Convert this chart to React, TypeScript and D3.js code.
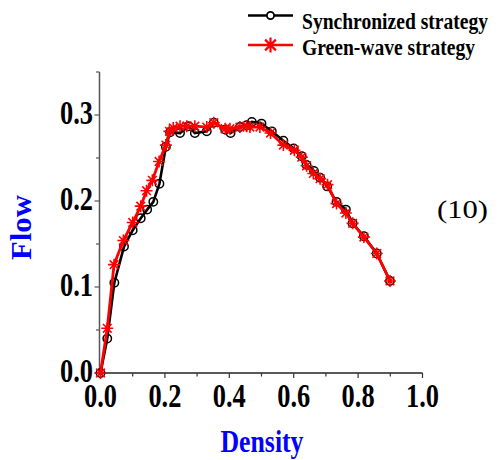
import React from 'react';
import * as d3 from 'd3';

// Synchronized strategy (black, open circles)
const syncDensity = [0, 0.021, 0.043, 0.073, 0.1, 0.125, 0.145, 0.164, 0.183, 0.203, 0.216, 0.247, 0.273, 0.293, 0.33, 0.352, 0.387, 0.404, 0.433, 0.454, 0.47, 0.5, 0.532, 0.568, 0.6, 0.625, 0.64, 0.663, 0.682, 0.704, 0.733, 0.762, 0.783, 0.818, 0.858, 0.899];
const syncFlow = [0, 0.04, 0.105, 0.147, 0.166, 0.18, 0.19, 0.199, 0.22, 0.263, 0.28, 0.279, 0.287, 0.279, 0.281, 0.291, 0.283, 0.279, 0.286, 0.288, 0.292, 0.29, 0.281, 0.27, 0.261, 0.252, 0.242, 0.235, 0.227, 0.217, 0.199, 0.19, 0.174, 0.159, 0.139, 0.107];

// Green-wave strategy (red, asterisks)
const greenDensity = [0, 0.021, 0.042, 0.071, 0.1, 0.125, 0.143, 0.161, 0.182, 0.203, 0.214, 0.226, 0.247, 0.268, 0.293, 0.33, 0.352, 0.387, 0.402, 0.433, 0.454, 0.464, 0.495, 0.528, 0.568, 0.602, 0.625, 0.64, 0.661, 0.682, 0.705, 0.733, 0.762, 0.783, 0.818, 0.858, 0.899];
const greenFlow = [0, 0.052, 0.126, 0.154, 0.175, 0.194, 0.212, 0.224, 0.246, 0.265, 0.281, 0.285, 0.287, 0.287, 0.287, 0.286, 0.291, 0.284, 0.284, 0.286, 0.287, 0.286, 0.286, 0.279, 0.265, 0.259, 0.251, 0.241, 0.232, 0.226, 0.219, 0.197, 0.186, 0.174, 0.158, 0.139, 0.107];

const xTicks = [0, 0.2, 0.4, 0.6, 0.8, 1.0];
const yTicks = [0, 0.1, 0.2, 0.3];
const seriesNames = ['Synchronized strategy', 'Green-wave strategy'];

const font = '"Liberation Serif", "Times New Roman", serif';

const star = (s: number) =>
  `M0,${-s}V${s}M${-s},0H${s}M${-s * 0.72},${-s * 0.72}L${s * 0.72},${s * 0.72}M${-s * 0.72},${s * 0.72}L${s * 0.72},${-s * 0.72}`;

const App = () => {
  const width = 498;
  const height = 460;

  const x = d3.scaleLinear().domain([0, 1]).range([100.5, 422.5]);
  const y = d3.scaleLinear().domain([0, 0.35]).range([373, 72]);

  const sync = syncDensity.map((d, i) => [d, syncFlow[i]] as [number, number]);
  const green = greenDensity.map((d, i) => [d, greenFlow[i]] as [number, number]);

  const line = d3.line<[number, number]>().x(d => x(d[0])).y(d => y(d[1]));

  const xMinor = d3.range(0, 1.0001, 0.1);
  const yMinor = d3.range(0, 0.3501, 0.05);

  return (
    <svg width={width} height={height} style={{ position: 'absolute', left: 0, top: 0 }}>
      <rect width={width} height={height} fill="#fff" />

      {/* axes */}
      <line x1={x(0) - 1} x2={x(0) - 1} y1={y(0)} y2={y(0.35)} stroke="#555" strokeWidth={1.5} />
      <line x1={x(0) - 1} x2={x(1)} y1={y(0)} y2={y(0)} stroke="#222" strokeWidth={1.5} />
      {yMinor.map((t, i) => (
        <line key={'ym' + i} x1={x(0) - 1 - (i % 2 === 0 ? 5 : 3.5)} x2={x(0) - 1} y1={y(t)} y2={y(t)} stroke="#555" strokeWidth={1.2} />
      ))}
      {xMinor.map((t, i) => (
        <line key={'xm' + i} x1={x(t)} x2={x(t)} y1={y(0)} y2={y(0) + (i % 2 === 0 ? 5 : 3.5)} stroke="#333" strokeWidth={1.2} />
      ))}
      {yTicks.map(t => (
        <text key={'yt' + t} x={93} y={y(t) + 9} textAnchor="end" fontFamily={font} fontWeight="bold" fontSize={34}
          textLength={33} lengthAdjust="spacingAndGlyphs">
          {t.toFixed(1)}
        </text>
      ))}
      {xTicks.map(t => (
        <text key={'xt' + t} x={x(t)} y={y(0) + 33.5} textAnchor="middle" fontFamily={font} fontWeight="bold" fontSize={34}
          textLength={33} lengthAdjust="spacingAndGlyphs">
          {t.toFixed(1)}
        </text>
      ))}

      <text transform={`translate(30.5,227.5) rotate(-90)`} textAnchor="middle" fontFamily={font} fontWeight="bold" fontSize={30}
        fill="#0000ff" textLength={65} lengthAdjust="spacingAndGlyphs">
        Flow
      </text>
      <text x={262} y={452} textAnchor="middle" fontFamily={font} fontWeight="bold" fontSize={31} fill="#0000ff"
        textLength={83} lengthAdjust="spacingAndGlyphs">
        Density
      </text>
      <text x={462.5} y={218} textAnchor="middle" fontFamily={font} fontSize={26} textLength={51} lengthAdjust="spacingAndGlyphs">
        (10)
      </text>

      {/* series */}
      <path d={line(sync) ?? ''} fill="none" stroke="#000" strokeWidth={2.6} />
      {sync.map((d, i) => (
        <circle key={'c' + i} cx={x(d[0])} cy={y(d[1])} r={4.2} fill="none" stroke="#000" strokeWidth={1.5} />
      ))}
      <path d={line(green) ?? ''} fill="none" stroke="#ff0000" strokeWidth={2.8} />
      {green.map((d, i) => (
        <path key={'s' + i} transform={`translate(${x(d[0])},${y(d[1])})`} d={star(6)} stroke="#ff0000" strokeWidth={1.6} fill="none" />
      ))}

      {/* legend */}
      <g transform="translate(248,15.5)">
        <line x1={0} x2={45} y1={0} y2={0} stroke="#000" strokeWidth={2.5} />
        <circle cx={22.5} cy={0} r={3.6} fill="#fff" stroke="#000" strokeWidth={1.8} />
        <text x={54} y={13.5} fontFamily={font} fontWeight="bold" fontSize={23} textLength={186} lengthAdjust="spacingAndGlyphs">
          {seriesNames[0]}
        </text>
      </g>
      <g transform="translate(248,45)">
        <line x1={0} x2={45} y1={0} y2={0} stroke="#ff0000" strokeWidth={2.5} />
        <path transform="translate(22.5,0)" d={star(7.5)} stroke="#ff0000" strokeWidth={2.2} fill="none" />
        <text x={54} y={9.5} fontFamily={font} fontWeight="bold" fontSize={23} textLength={173} lengthAdjust="spacingAndGlyphs">
          {seriesNames[1]}
        </text>
      </g>
    </svg>
  );
};

export default App;
